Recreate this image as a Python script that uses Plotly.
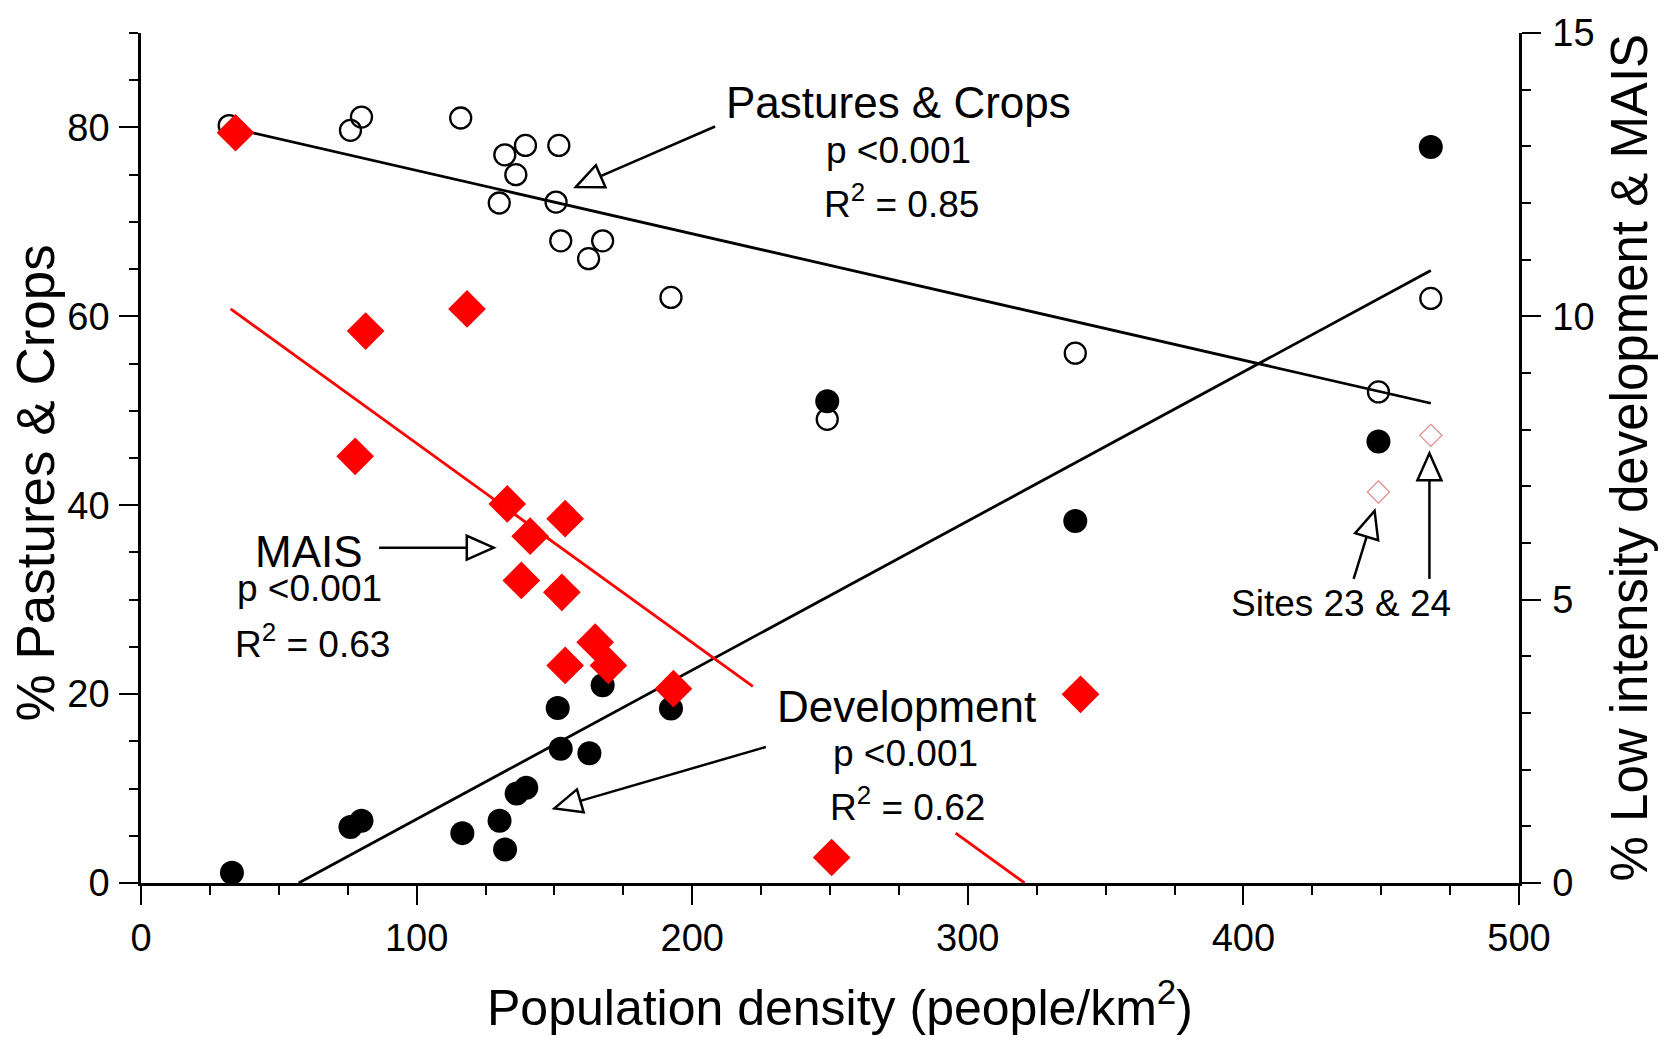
import math
import plotly.graph_objects as go

# ---- data -------------------------------------------------------------
# % pastures & crops (left axis) vs population density
pastures_x = [32, 76, 80, 116, 130, 132, 136, 139.5, 150.6, 151.6, 152.3, 162.4,
              167.5, 192.3, 249, 339, 449, 468]
pastures_y = [80.2, 79.7, 81.1, 81.0, 72.0, 77.1, 75.0, 78.1, 72.1, 78.1, 68.0, 66.1,
              68.0, 62.0, 49.1, 56.1, 52.0, 61.9]

# % low intensity development (right axis)
dev_x = [33, 76, 80, 116.6, 130.1, 132.1, 136.3, 139.8, 151.2, 152.3, 162.7, 167.5,
         192.3, 249, 339, 449, 468]
dev_y = [0.18, 0.99, 1.10, 0.88, 1.10, 0.59, 1.58, 1.68, 3.09, 2.37, 2.29, 3.49,
         3.08, 8.5, 6.39, 7.79, 12.99]

# MAIS (right axis)
mais_x = [34.3, 77.7, 81.5, 118.3, 132.9, 138.0, 141.2, 152.7, 153.9, 153.9, 164.8,
          169.6, 193.2, 250.6, 340.9]
mais_y = [13.24, 7.53, 9.74, 10.13, 6.69, 5.34, 6.12, 5.13, 6.43, 3.84, 4.25, 3.84,
          3.43, 0.45, 3.33]

# MAIS at sites 23 & 24 (right axis, excluded from the fit)
site_x = [449, 468]
site_y = [6.9, 7.9]

# linear fits: intercept, slope, x extents of the drawn segments
pastures_fit = (82.14, -0.06697)
pastures_span = [[32, 468]]
dev_fit = (-1.505, 0.02631)
dev_span = [[57.2, 468]]
mais_fit = (11.276, -0.03517)
mais_span = [[32.5, 222], [295.6, 320.6]]

x_ticks = [0, 100, 200, 300, 400, 500]
y_ticks = [0, 20, 40, 60, 80]
y2_ticks = [0, 5, 10, 15]

# ---- layout geometry ----------------------------------------------------
FIG_W, FIG_H = 1665, 1040
ML, MR, MT, MB = 141, 146, 30, 157
PW, PH = FIG_W - ML - MR, FIG_H - MT - MB
X_MAX, Y_MAX, Y2_MAX = 500, 90, 15

FONT = "Liberation Sans, Arial, Helvetica, sans-serif"


def to_px(x, y):
    return ML + x / X_MAX * PW, MT + PH - y / Y_MAX * PH


def to_data(px, py):
    return (px - ML) / PW * X_MAX, (MT + PH - py) / PH * Y_MAX


def fit_segments(fit, spans):
    b0, b1 = fit
    xs, ys = [], []
    for a, b in spans:
        xs += [a, b, None]
        ys += [b0 + b1 * a, b0 + b1 * b, None]
    return xs, ys


fig = go.Figure()

# regression lines and points
px_, py_ = fit_segments(pastures_fit, pastures_span)
fig.add_trace(go.Scatter(x=px_, y=py_, mode="lines", line=dict(color="black", width=2.8),
                         hoverinfo="skip", showlegend=False))

fig.add_trace(go.Scatter(x=pastures_x, y=pastures_y, mode="markers",
                         marker=dict(symbol="circle-open", size=21, color="black",
                                     line=dict(width=2.3, color="black")),
                         showlegend=False))

dx_, dy_ = fit_segments(dev_fit, dev_span)
fig.add_trace(go.Scatter(x=dx_, y=dy_, mode="lines", yaxis="y2",
                         line=dict(color="black", width=2.8), hoverinfo="skip",
                         showlegend=False))
fig.add_trace(go.Scatter(x=dev_x, y=dev_y, mode="markers", yaxis="y2",
                         marker=dict(symbol="circle", size=24, color="black"),
                         showlegend=False))

mx_, my_ = fit_segments(mais_fit, mais_span)
fig.add_trace(go.Scatter(x=mx_, y=my_, mode="lines", yaxis="y2",
                         line=dict(color="#ff0000", width=2.8), hoverinfo="skip",
                         showlegend=False))
fig.add_trace(go.Scatter(x=mais_x, y=mais_y, mode="markers", yaxis="y2",
                         marker=dict(symbol="diamond", size=29, color="#ff0000"),
                         showlegend=False))
fig.add_trace(go.Scatter(x=site_x, y=site_y, mode="markers", yaxis="y2",
                         marker=dict(symbol="diamond-open", size=17, color="#e08a8a",
                                     line=dict(width=1.2, color="#e08a8a")),
                         showlegend=False))

# ---- call-out arrows with open triangular heads -------------------------
shapes = []


def add_arrow(tail, tip, head_len=27, head_half=12):
    sx, sy = to_px(*tail)
    tx, ty = to_px(*tip)
    d = math.hypot(tx - sx, ty - sy)
    ux, uy = (tx - sx) / d, (ty - sy) / d
    bx, by = tx - head_len * ux, ty - head_len * uy
    nx, ny = -uy, ux
    p1 = to_data(tx, ty)
    p2 = to_data(bx + head_half * nx, by + head_half * ny)
    p3 = to_data(bx - head_half * nx, by - head_half * ny)
    b = to_data(bx, by)
    shapes.append(dict(type="line", xref="x", yref="y", x0=tail[0], y0=tail[1],
                       x1=b[0], y1=b[1], line=dict(color="black", width=2.5),
                       layer="above"))
    path = "M {:.4f},{:.4f} L {:.4f},{:.4f} L {:.4f},{:.4f} Z".format(*p1, *p2, *p3)
    shapes.append(dict(type="path", xref="x", yref="y", path=path,
                       fillcolor="white", line=dict(color="black", width=2.5),
                       layer="above"))


add_arrow((208.3, 80.1), (157.8, 73.7))   # Pastures & Crops
add_arrow((86.4, 35.5), (128.0, 35.5))    # MAIS
add_arrow((226.7, 14.4), (150.0, 7.9))    # Development
add_arrow((440.0, 32.2), (447.6, 39.4))   # site 23
add_arrow((467.5, 32.2), (467.5, 45.5))   # site 24

# ---- text ---------------------------------------------------------------
annotations = []


def label(x, y, text, size):
    annotations.append(dict(x=x, y=y, xref="x", yref="y", text=text, showarrow=False,
                            xanchor="center", yanchor="middle",
                            font=dict(family=FONT, size=size, color="black")))


label(275.0, 82.6, "Pastures &amp; Crops", 44)
label(275.0, 77.6, "p &lt;0.001", 37)
label(275.8, 72.2, "R<sup>2</sup> = 0.85", 37)

label(61.0, 35.1, "MAIS", 44)
label(61.1, 31.2, "p &lt;0.001", 37)
label(62.4, 25.6, "R<sup>2</sup> = 0.63", 37)

label(277.8, 18.7, "Development", 44)
label(277.5, 13.7, "p &lt;0.001", 37)
label(278.3, 8.3, "R<sup>2</sup> = 0.62", 37)

label(435.4, 29.6, "Sites 23 &amp; 24", 37)

# axis titles
annotations.append(dict(x=(35 - ML) / PW, y=(MT + PH - 482) / PH, xref="paper",
                        yref="paper", text="% Pastures &amp; Crops", textangle=-90,
                        showarrow=False, xanchor="center", yanchor="middle",
                        font=dict(family=FONT, size=53, color="black")))
annotations.append(dict(x=(1630 - ML) / PW, y=(MT + PH - 456) / PH, xref="paper",
                        yref="paper", text="% Low intensity development &amp; MAIS",
                        textangle=-90, showarrow=False, xanchor="center",
                        yanchor="middle",
                        font=dict(family=FONT, size=51, color="black")))
annotations.append(dict(x=(840 - ML) / PW, y=(MT + PH - 1004) / PH, xref="paper",
                        yref="paper", text="Population density (people/km<sup>2</sup>)",
                        showarrow=False, xanchor="center", yanchor="middle",
                        font=dict(family=FONT, size=50, color="black")))

axis_common = dict(showgrid=False, zeroline=False, showline=True, linecolor="black",
                   linewidth=2.5, ticks="outside", ticklen=19, tickwidth=2,
                   tickcolor="black",
                   tickfont=dict(family=FONT, size=38, color="black"))

fig.update_layout(
    width=FIG_W, height=FIG_H,
    margin=dict(l=ML, r=MR, t=MT, b=MB, pad=0),
    paper_bgcolor="white", plot_bgcolor="white",
    showlegend=False,
    xaxis=dict(range=[0, X_MAX], tickvals=x_ticks, ticklabelstandoff=1,
               minor=dict(ticks="outside", ticklen=9, tickwidth=1.5, dtick=25,
                          tickcolor="black"),
               **axis_common),
    yaxis=dict(range=[0, Y_MAX], tickvals=y_ticks, ticklabelstandoff=2,
               minor=dict(ticks="outside", ticklen=9, tickwidth=1.5, dtick=5,
                          tickcolor="black"),
               **axis_common),
    yaxis2=dict(range=[0, Y2_MAX], tickvals=y2_ticks, overlaying="y", side="right",
                anchor="x", ticklabelstandoff=4,
                minor=dict(ticks="outside", ticklen=9, tickwidth=1.5, dtick=1,
                           tickcolor="black"),
                **axis_common),
    shapes=shapes,
    annotations=annotations,
)

fig.write_html("out.html")
